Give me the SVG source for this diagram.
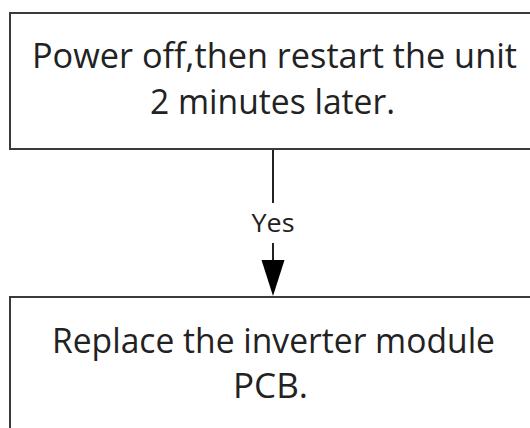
<svg xmlns="http://www.w3.org/2000/svg" width="530" height="428" viewBox="0 0 530 428">
<style>
.box{fill:#fff;stroke:#3a3a3a;stroke-width:2}
.t{font-family:"Open Sans","Noto Sans",sans-serif;fill:#222;text-anchor:middle}
.main{font-size:34px}
.lbl{font-size:26px}
.conn{stroke:#222;stroke-width:2;fill:none}
</style>
<rect width="530" height="428" fill="#fff"/>
<g id="node-restart">
<rect class="box" x="10" y="13" width="530" height="136"/>
<text class="t main" x="274.5" y="68" textLength="485" lengthAdjust="spacingAndGlyphs">Power off,then restart the unit</text>
<text class="t main" x="272.5" y="114" textLength="245" lengthAdjust="spacingAndGlyphs">2 minutes later.</text>
</g>
<g id="node-replace">
<rect class="box" x="10" y="297" width="530" height="140"/>
<text class="t main" x="273.5" y="353" textLength="443" lengthAdjust="spacingAndGlyphs">Replace the inverter module</text>
<text class="t main" x="270.5" y="398" textLength="75" lengthAdjust="spacingAndGlyphs">PCB.</text>
</g>
<g id="connectors">
<line class="conn" x1="273" y1="150" x2="273" y2="203"/>
<line class="conn" x1="273" y1="243" x2="273" y2="261"/>
<polygon points="261.5,260 284.5,260 273,296" fill="#000"/>
<text class="t lbl" x="273" y="232" textLength="43" lengthAdjust="spacingAndGlyphs">Yes</text>
</g>
</svg>
